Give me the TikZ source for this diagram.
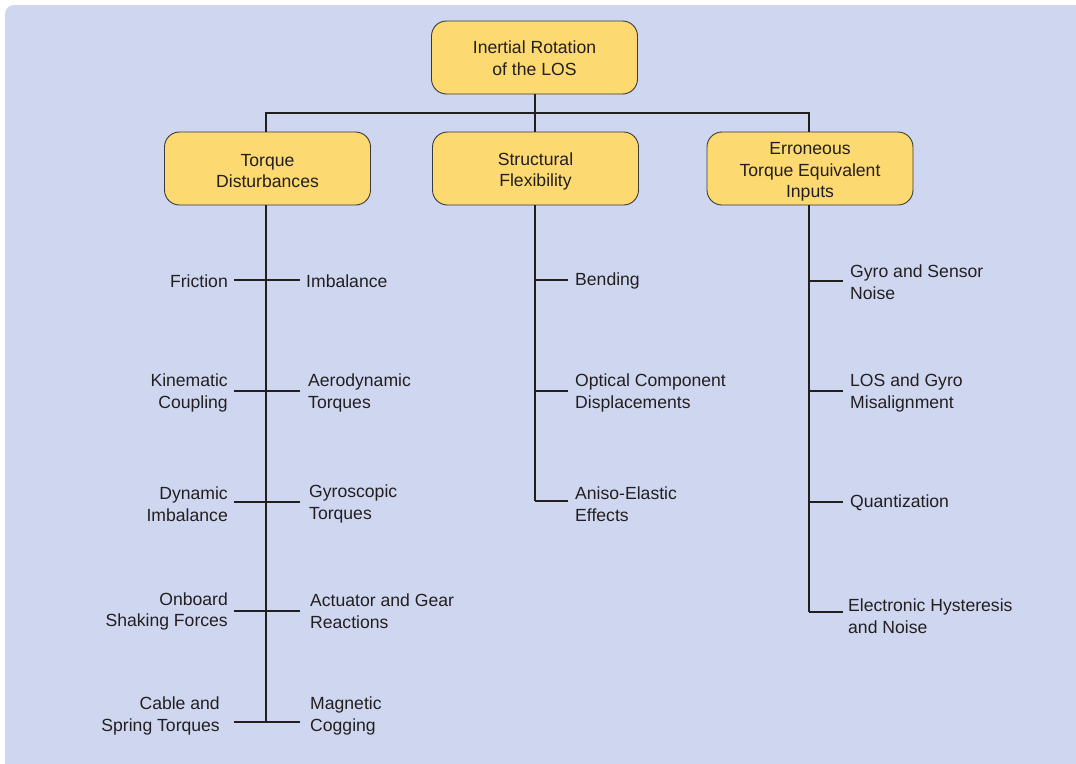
\documentclass[tikz,border=0pt]{standalone}
\usepackage{fontspec}
\setmainfont{Liberation Sans}
\definecolor{panel}{HTML}{CFD7F0}
\definecolor{boxfill}{HTML}{FCD971}
\definecolor{boxline}{HTML}{3A3A3A}
\definecolor{ink}{HTML}{231F20}
\begin{document}
\begin{tikzpicture}[x=1pt,y=-1pt,
  every node/.style={font=\fontsize{17.6}{21.6}\selectfont, text=ink},
  headbox/.style={draw=boxline, line width=0.9pt, fill=boxfill, rounded corners=15pt,
    minimum width=206pt, minimum height=73pt, inner sep=0pt},
  headtext/.style={align=center, inner sep=0pt},
  link/.style={draw=ink, line width=2pt},
  llab/.style={anchor=east, align=right, inner sep=0pt},
  rlab/.style={anchor=west, align=left, inner sep=0pt}]
  \useasboundingbox (0,0) rectangle (1076,763);
  % panel
  \fill[panel, rounded corners=9pt] (5,5) rectangle (1090,778);

  % heading boxes and their captions
  \node[headbox] (root) at (534.5,57.5) {};
  \node[headtext] (rootT) at (534.5,58.5) {Inertial Rotation\\of the LOS};
  \node[headbox] (td) at (267.5,168.5) {};
  \node[headtext] (tdT) at (267.5,171) {Torque\\Disturbances};
  \node[headbox] (sf) at (535.5,168.5) {};
  \node[headtext] (sfT) at (535.5,171.5) {Structural\\Flexibility};
  \node[headbox] (et) at (810,168.5) {};
  \node[headtext] (etT) at (810,172) {Erroneous\\Torque Equivalent\\Inputs};

  % tree bus
  \coordinate (bus) at (534.5,113);
  \draw[link] (root.south) -- (bus);
  \draw[link] (td.north -| 266,0) |- (bus) -| (et.north -| 809,0);
  \draw[link] (bus) -- (sf.north -| bus);

  % trunks
  \coordinate (tdend) at (266,722);
  \coordinate (sfend) at (535,501);
  \coordinate (etend) at (809,612);
  \draw[link] (td.south -| tdend) -- (tdend);
  \draw[link] (sf.south -| sfend) -- (sfend);
  \draw[link] (et.south -| etend) -- (etend);

  % torque disturbances branches
  \foreach \yb/\yl/\xl/\ltext/\xr/\yr/\rtext [count=\i] in {
    280/281/228/{Friction}/306/281/{Imbalance},
    391/393/228/{Kinematic\\Coupling}/308/393/{Aerodynamic\\Torques},
    502/504/228/{Dynamic\\Imbalance}/309/504/{Gyroscopic\\Torques},
    611/611.5/228/{Onboard\\Shaking Forces}/310/611.5/{Actuator and Gear\\Reactions},
    722/716/220/{Cable and\\Spring Torques}/310/716/{Magnetic\\Cogging}} {
    \coordinate (tdb\i) at (266,\yb);
    \coordinate (tdl\i) at (234,\yb);
    \coordinate (tdr\i) at (300,\yb);
    \node[llab] (tdL\i) at (\xl,\yl) {\ltext};
    \node[rlab] (tdR\i) at (\xr,\yr) {\rtext};
    \draw[link] (tdl\i) -- (tdb\i) -- (tdr\i);
  }

  % structural flexibility branches
  \foreach \yb/\yl/\ltext [count=\i] in {
    280/281/{Bending},
    391/393/{Optical Component\\Displacements},
    501/504/{Aniso-Elastic\\Effects}} {
    \coordinate (sfb\i) at (535,\yb);
    \coordinate (sfe\i) at (568,\yb);
    \node[rlab] (sfR\i) at (575,\yl) {\ltext};
    \draw[link] (sfb\i) -- (sfe\i);
  }

  % erroneous input branches
  \foreach \yb/\yl/\xl/\ltext [count=\i] in {
    281/282.5/850/{Gyro and Sensor\\Noise},
    391/393/850/{LOS and Gyro\\Misalignment},
    502/503/850/{Quantization},
    612/616/848/{Electronic Hysteresis\\and Noise}} {
    \coordinate (etb\i) at (809,\yb);
    \coordinate (ete\i) at (843,\yb);
    \node[rlab] (etR\i) at (\xl,\yl) {\ltext};
    \draw[link] (etb\i) -- (ete\i);
  }
\end{tikzpicture}
\end{document}
